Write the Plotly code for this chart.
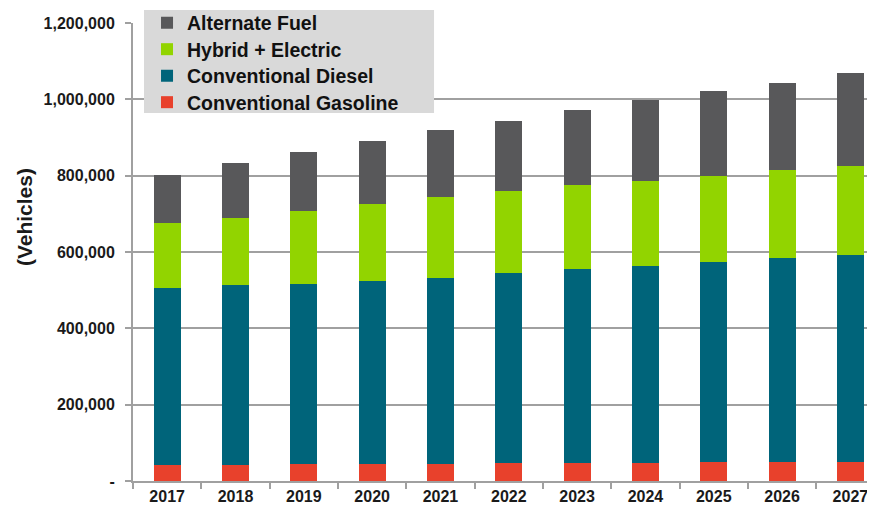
import plotly.graph_objects as go

years = ["2017", "2018", "2019", "2020", "2021", "2022", "2023", "2024", "2025", "2026", "2027"]
gasoline = [41000, 41000, 45000, 45000, 45000, 48000, 48000, 48000, 49000, 49000, 49000]
diesel = [465000, 472000, 471000, 478000, 487000, 497000, 507000, 515000, 525000, 535000, 543000]
hybrid = [169000, 176000, 191000, 202000, 211000, 215000, 220000, 223000, 226000, 230000, 234000]
alternate = [128000, 143000, 154000, 166000, 177000, 184000, 197000, 212000, 222000, 230000, 243000]
y_ticks = [0, 200000, 400000, 600000, 800000, 1000000, 1200000]
y_tick_text = ["-", "200,000", "400,000", "600,000", "800,000", "1,000,000", "1,200,000"]

# (name, values, colour, legend id, legend top in paper coords)
series = [
    ("Conventional Gasoline", gasoline, "#e8412c", "legend4", 0.8690),
    ("Conventional Diesel", diesel, "#00647a", "legend3", 0.9269),
    ("Hybrid + Electric", hybrid, "#92d400", "legend2", 0.9847),
    ("Alternate Fuel", alternate, "#58585a", "legend", 1.0426),
]

FONT = "Liberation Sans, Arial, sans-serif"
legend_font = dict(family=FONT, size=19.5, color="#111111", weight="bold")

fig = go.Figure()
legends = {}
for name, vals, color, lg, ytop in series:
    fig.add_trace(go.Bar(x=years, y=vals, name=name, legend=lg,
                         marker=dict(color=color, line=dict(width=0))))
    legends[lg] = dict(
        x=0.0189, y=ytop, xanchor="left", yanchor="top",
        bgcolor="rgba(0,0,0,0)", font=legend_font, itemwidth=30,
    )

fig.update_layout(
    width=867, height=504,
    barmode="stack", bargap=0.605,
    paper_bgcolor="white", plot_bgcolor="white",
    margin=dict(l=125, r=0, t=15, b=31, autoexpand=False),
    font=dict(family=FONT, color="#1a1a1a"),
    showlegend=True,
    xaxis=dict(
        type="category", range=[-0.5, 10.36], automargin=False,
        showline=True, linecolor="#a0a0a0", linewidth=2,
        ticks="outside", tickson="boundaries", ticklen=6, tickcolor="#a0a0a0", tickwidth=2,
        tickfont=dict(family=FONT, size=16, color="#1a1a1a", weight="bold"),
        showgrid=False,
    ),
    yaxis=dict(
        range=[0, 1200000], automargin=False,
        tickvals=y_ticks, ticktext=y_tick_text,
        showline=True, linecolor="#a0a0a0", linewidth=2,
        ticks="outside", ticklen=6, tickcolor="#a0a0a0", tickwidth=2,
        ticklabelstandoff=7,
        showgrid=True, gridcolor="#a0a0a0", gridwidth=2,
        zeroline=False,
        tickfont=dict(family=FONT, size=16, color="#1a1a1a", weight="bold"),
    ),
    shapes=[dict(
        type="rect", xref="paper", yref="paper", layer="above",
        x0=0.0148, x1=0.4057, y0=0.8035, y1=1.0284,
        fillcolor="#d9d9d9", line=dict(width=0),
    )],
    annotations=[dict(
        text="(Vehicles)", textangle=-90, showarrow=False,
        xref="paper", yref="paper", x=-0.147, y=0.576,
        xanchor="center", yanchor="middle",
        font=dict(family=FONT, size=21, color="#1a1a1a", weight="bold"),
    )],
    **legends,
)

fig.write_html("out.html")
